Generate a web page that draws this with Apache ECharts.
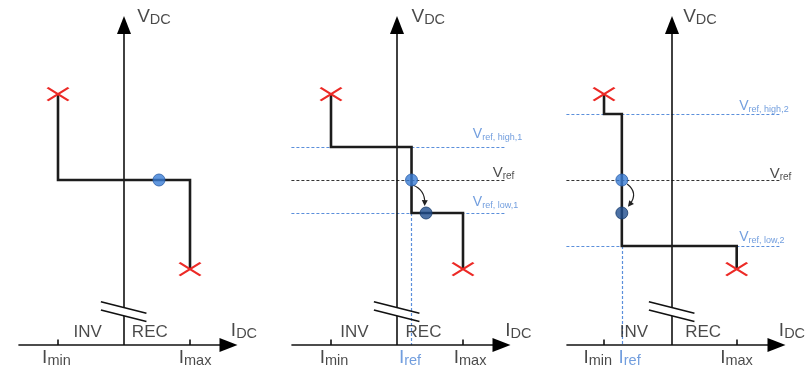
<!DOCTYPE html>
<html><head><meta charset="utf-8">
<script src="https://cdn.jsdelivr.net/npm/echarts@6/dist/echarts.min.js"></script>
<style>html,body{margin:0;padding:0;background:#fff}#c{width:812px;height:376px}</style>
</head><body><div id="c"></div>
<script>
// ================= DATA (schematic values) =================
// Step characteristics V_DC(I_DC) of the three panels
const curve1 = [[-1, 7.6], [-1, 5], [1, 5], [1, 2.3]];
const curve2 = [[-1, 7.6], [-1, 6], [0.22, 6], [0.22, 4], [1, 4], [1, 2.3]];
const curve3 = [[-1.03, 7.6], [-1.03, 7], [-0.76, 7], [-0.76, 3], [0.98, 3], [0.98, 2.3]];
// current limits [Imin, Imax] and reference current per panel
const iMin = [-1, -1, -1.03];
const iMax = [1, 1, 0.98];
const iRef = [null, 0.22, -0.76];
// voltage levels
const vRef = 5;
const vHigh = [null, 6, 7];
const vLow = [null, 4, 3];
// limit end points (red crosses)
const limitTop = [[-1, 7.6], [-1, 7.6], [-1.03, 7.6]];
const limitBottom = [[1, 2.3], [1, 2.3], [0.98, 2.3]];
// operating points
const opStart = [[0.53, 5], [0.22, 5], [-0.76, 5]];
const opEnd = [null, [0.44, 4], [-0.76, 4]];
const opArrowFrom = [null, [0.24, 4.85], [-0.68, 4.88]];
const opArrowTo = [null, [0.42, 4.3], [-0.64, 4.26]];
// text
const vAxisLabel = ['V', 'DC'];
const iAxisLabel = ['I', 'DC'];
const regionLabels = ['INV', 'REC'];
const minLabel = ['I', 'min'];
const maxLabel = ['I', 'max'];
const refCurLabel = ['I', 'ref'];
const highLabels = [null, ['V', 'ref, high,1'], ['V', 'ref, high,2']];
const refVLabel = ['V', 'ref'];
const lowLabels = [null, ['V', 'ref, low,1'], ['V', 'ref, low,2']];

// ================= LAYOUT =================
const ORIGIN_PX = [124, 397, 672];
const PX = 66, PY = 33, AXIS_Y = 345;
const X_MIN = -1.8, X_MAX = 2.0, Y_MIN = -0.9, Y_MAX = 10.3;
const H_AXIS = [-1.6, 1.72];
const V_TOP = 9.97;
const BREAK = [0.88, 1.15];
const SLASH_X = [-0.35, 0.34];
const SLASH_Y = [[1.31, 0.96], [1.06, 0.71]];
const TICK_H = 0.17;
const DASH_SPAN = [-1.6, 1.65];
const ARROW = [14, 18];
const labelPos = [
  {v: [0.2, 10.24], inv: [-0.765, 0.64], rec: [0.12, 0.64], i: [1.62, 0.72], min: [-1.24, -0.1], max: [0.83, -0.1]},
  {v: [0.22, 10.24], inv: [-0.86, 0.64], rec: [0.13, 0.64], i: [1.64, 0.72], min: [-1.17, -0.1], ref: [0.03, -0.1], max: [0.86, -0.1],
   high: [1.15, 6.6], vref: [1.45, 5.45], low: [1.15, 4.54]},
  {v: [0.17, 10.24], inv: [-0.79, 0.64], rec: [0.2, 0.64], i: [1.62, 0.72], min: [-1.34, -0.1], ref: [-0.81, -0.1], max: [0.73, -0.1],
   high: [1.02, 7.44], vref: [1.48, 5.42], low: [1.02, 3.47]}
];

const FONT = 'Liberation Sans, Arial, sans-serif';
const INK = '#1c1c1c';
const BLUE_TXT = '#4f86d6';
const BLUE_DASH = '#5b8fdb';
const RED = '#ec2a26';

// subscripts are pushed down with top padding of the small token
const rich = {
  b: {fontSize: 19, lineHeight: 19, fontFamily: FONT},
  bs: {fontSize: 14.5, lineHeight: 14.5, padding: [7.2, 0, 0, 0], fontFamily: FONT},
  p: {fontSize: 17, lineHeight: 17, fontFamily: FONT},
  m: {fontSize: 15, lineHeight: 15, fontFamily: FONT},
  ms: {fontSize: 10, lineHeight: 10, padding: [6.5, 0, 0, 0], fontFamily: FONT},
  s: {fontSize: 14, lineHeight: 14, fontFamily: FONT},
  ss: {fontSize: 9, lineHeight: 9, padding: [6.5, 0, 0, 0], fontFamily: FONT}
};

const grids = [], xAxes = [], yAxes = [], series = [];

function ax(i) { return {xAxisIndex: i, yAxisIndex: i}; }
function seg(a, b) { return {coords: [a, b]}; }
function linesSeries(i, data, style, extra) {
  return Object.assign({type: 'lines', coordinateSystem: 'cartesian2d', ...ax(i), silent: true,
    polyline: false, data: data, lineStyle: Object.assign({opacity: 1, curveness: 0}, style), animation: false}, extra || {});
}
function textItem(pos, str, color) {
  return {value: pos, label: {show: true, position: [0, 0], formatter: str, color: color, rich: rich}};
}
function sub(style, parts) { return '{' + style + '|' + parts[0] + '}{' + style + 's|' + parts[1] + '}'; }

for (let i = 0; i < 3; i++) {
  grids.push({left: ORIGIN_PX[i] + X_MIN * PX, top: AXIS_Y - Y_MAX * PY, width: (X_MAX - X_MIN) * PX, height: (Y_MAX - Y_MIN) * PY});
  xAxes.push({type: 'value', gridIndex: i, min: X_MIN, max: X_MAX, show: false});
  yAxes.push({type: 'value', gridIndex: i, min: Y_MIN, max: Y_MAX, show: false});

  // dashed reference lines
  if (vHigh[i] !== null) {
    series.push(linesSeries(i, [
      seg([DASH_SPAN[0], vHigh[i]], [DASH_SPAN[1], vHigh[i]]),
      seg([DASH_SPAN[0], vLow[i]], [DASH_SPAN[1], vLow[i]]),
      seg([iRef[i], vLow[i]], [iRef[i], 0])
    ], {color: BLUE_DASH, width: 1.2, type: [3, 2]}, {z: 1}));
    series.push(linesSeries(i, [seg([DASH_SPAN[0], vRef], [DASH_SPAN[1], vRef])],
      {color: '#333', width: 1.1, type: [3, 2]}, {z: 1}));
  }

  // axes (with break on the vertical axis), ticks, break slashes
  series.push(linesSeries(i, [
    seg([H_AXIS[0], 0], [H_AXIS[1] - ARROW[1] / 2 / PX, 0]),
    seg([0, 0], [0, BREAK[0]]),
    seg([0, BREAK[1]], [0, V_TOP - ARROW[1] / 2 / PY]),
    seg([iMin[i], 0], [iMin[i], TICK_H]),
    seg([iMax[i], 0], [iMax[i], TICK_H]),
    seg([SLASH_X[0], SLASH_Y[0][0]], [SLASH_X[1], SLASH_Y[0][1]]),
    seg([SLASH_X[0], SLASH_Y[1][0]], [SLASH_X[1], SLASH_Y[1][1]])
  ], {color: '#111', width: 1.6}, {z: 2}));

  // arrow heads
  series.push({type: 'scatter', ...ax(i), silent: true, animation: false, z: 3,
    symbol: 'triangle', symbolSize: ARROW, itemStyle: {color: '#000', opacity: 1},
    data: [
      {value: [H_AXIS[1] - ARROW[1] / 2 / PX, 0], symbolRotate: -90},
      {value: [0, V_TOP - ARROW[1] / 2 / PY], symbolRotate: 0}
    ]});

  // step characteristic
  const curve = [curve1, curve2, curve3][i];
  series.push({type: 'line', ...ax(i), data: curve, showSymbol: false, symbol: 'none', silent: true, animation: false, z: 4,
    lineStyle: {color: INK, width: 2.6, join: 'miter'}});

  // red limit crosses
  series.push({type: 'scatter', ...ax(i), silent: true, animation: false, z: 5,
    symbol: 'path://M0,0L20,13M20,0L0,13', symbolSize: [21, 13],
    itemStyle: {color: 'rgba(0,0,0,0)', borderColor: RED, borderWidth: 2.2, opacity: 1},
    data: [limitTop[i], limitBottom[i]]});

  // operating-point move arrow
  if (opArrowFrom[i]) {
    series.push(linesSeries(i, [seg(opArrowFrom[i], opArrowTo[i])],
      {color: '#222', width: 1.2, curveness: i === 1 ? 0.35 : 0.5},
      {symbol: ['none', 'triangle'], symbolSize: 6, z: 5}));
  }

  // operating points
  const dots = [{value: opStart[i], itemStyle: {color: '#3a7dd6', borderColor: '#2a5ea8', borderWidth: 1}}];
  if (opEnd[i]) dots.push({value: opEnd[i], itemStyle: {color: '#1f4e8e', borderColor: '#173b6c', borderWidth: 1}});
  series.push({type: 'scatter', ...ax(i), silent: true, animation: false, z: 6, symbol: 'circle', symbolSize: 12, data: dots});

  // texts
  const lp = labelPos[i];
  const texts = [
    textItem(lp.v, sub('b', vAxisLabel), INK),
    textItem(lp.inv, '{p|' + regionLabels[0] + '}', INK),
    textItem(lp.rec, '{p|' + regionLabels[1] + '}', INK),
    textItem(lp.i, sub('b', iAxisLabel), INK),
    textItem(lp.min, sub('b', minLabel), INK),
    textItem(lp.max, sub('b', maxLabel), INK)
  ];
  if (iRef[i] !== null) {
    texts.push(textItem(lp.ref, sub('b', refCurLabel), BLUE_TXT));
    texts.push(textItem(lp.high, sub('s', highLabels[i]), BLUE_TXT));
    texts.push(textItem(lp.vref, sub('m', refVLabel), INK));
    texts.push(textItem(lp.low, sub('s', lowLabels[i]), BLUE_TXT));
  }
  series.push({type: 'scatter', ...ax(i), silent: true, animation: false, z: 7,
    symbol: 'circle', symbolSize: 0.1, itemStyle: {color: 'rgba(0,0,0,0)'}, data: texts});
}

const chart = echarts.init(document.getElementById('c'), null, {renderer: 'canvas'});
chart.setOption({animation: false, backgroundColor: '#fff', grid: grids, xAxis: xAxes, yAxis: yAxes, series: series});
</script></body></html>
